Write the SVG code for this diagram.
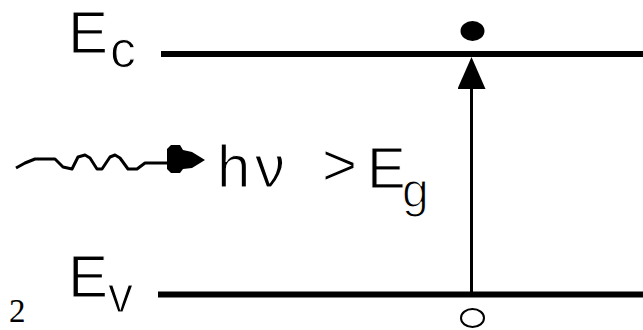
<svg xmlns="http://www.w3.org/2000/svg" width="643" height="330" viewBox="0 0 643 330">
  <style>
    .lbl { font-family: "Liberation Sans", Arial, sans-serif; fill: #000; stroke: #fff; stroke-width: 1.2px; }
    .band { stroke: #000; stroke-width: 6; fill: none; }
    .conn { stroke: #000; stroke-width: 3; fill: none; }
  </style>
  <defs>
    <marker id="tri" markerUnits="userSpaceOnUse" viewBox="0 0 32 28" markerWidth="32" markerHeight="28" refX="0" refY="14" orient="auto">
      <path d="M0,0 L32,14 L0,28 Z" fill="#000"/>
    </marker>
    <marker id="blob" markerUnits="userSpaceOnUse" viewBox="0 0 38 28" markerWidth="38" markerHeight="28" refX="0" refY="18" orient="auto">
      <path d="M0,4 L4,0 L13,0 L16,5 L25,7 L38,15 L25,23 L16,24 L13,28 L4,28 L0,24 Z" fill="#000"/>
    </marker>
  </defs>
  <rect width="643" height="330" fill="#fff"/>

  <g id="conduction-band">
    <line class="band" x1="161" y1="54" x2="643" y2="54"/>
    <text class="lbl" x="68" y="53" font-size="60">E<tspan x="110" y="67" font-size="52">c</tspan></text>
  </g>

  <g id="valence-band">
    <line class="band" x1="158" y1="294.5" x2="643" y2="294.5"/>
    <text class="lbl" x="68" y="297" font-size="60">E<tspan x="108" y="312" font-size="50">v</tspan></text>
  </g>

  <g id="electron">
    <ellipse cx="472.5" cy="31" rx="12" ry="10" fill="#000"/>
  </g>

  <g id="hole">
    <ellipse cx="472.5" cy="318" rx="11.5" ry="9" fill="none" stroke="#000" stroke-width="2"/>
  </g>

  <g id="photon-label">
    <text class="lbl" x="217" y="187" font-size="60">h<tspan x="255">ν</tspan></text>
    <text class="lbl" x="322" y="185" font-size="60">&gt;</text>
    <text class="lbl" x="367" y="188" font-size="58">E<tspan x="402" y="207" font-size="48">g</tspan></text>
  </g>

  <g id="figure-number">
    <text x="9" y="322" font-family="'Liberation Serif', 'Times New Roman', serif" font-size="33" fill="#000">2</text>
  </g>

  <g id="connectors">
    <path class="conn" stroke-linejoin="round" d="M16,168 L25,163 L35,159 L55,159 L63,167 L72,169 L78,157 L85,155 L90,158 L97,169 L102,169 L110,157 L115,155 L120,158 L128,169 L137,169 L145,163 L167,163" marker-end="url(#blob)"/>
    <line class="conn" x1="471.5" y1="294" x2="471.5" y2="89" marker-end="url(#tri)"/>
  </g>
</svg>
